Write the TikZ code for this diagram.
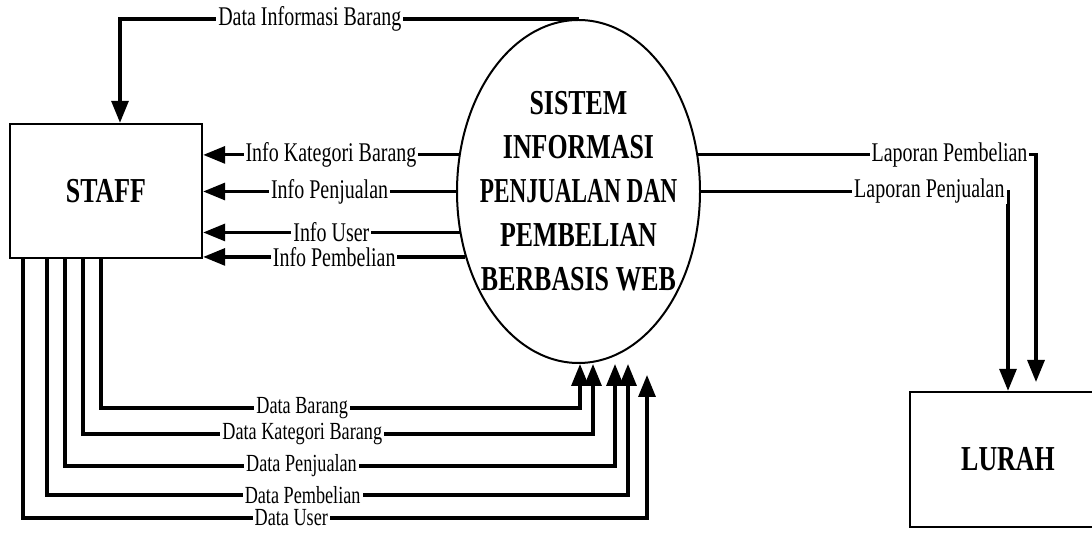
\documentclass[tikz,border=0pt]{standalone}
\usepackage{fontspec}
\setmainfont{Liberation Serif}[FakeStretch=0.74]
\usetikzlibrary{arrows.meta}
\usetikzlibrary{shapes.geometric}

\tikzset{
  entity/.style={draw=black, line width=1.2pt, fill=white, minimum width=96pt, minimum height=67pt, inner sep=0pt, font=\fontsize{17.5}{22}\selectfont\bfseries},
  proc/.style={ellipse, draw=black, line width=1pt, fill=white, minimum width=121.5pt, minimum height=171.5pt, inner sep=0pt},
  proctext/.style={align=center, inner sep=0pt, font=\fontsize{17.5}{22}\selectfont\bfseries},
  flow/.style={black, line width=1.6pt, -{Triangle[length=11pt,width=8.5pt]}},
  lbl/.style={fill=white, inner xsep=1pt, inner ysep=0pt, font=\fontsize{13.5}{14}\selectfont},
  lblsm/.style={lbl, font=\fontsize{12.3}{13}\selectfont}
}

\begin{document}
\begin{tikzpicture}[x=0.5pt, y=-0.5pt]
        \useasboundingbox (0,0) rectangle (1092,533);
        \clip (0,0) rectangle (1092,533);

        \node[entity] (staff) at (106,191) {STAFF};
        \node[proc] (sis) at (578.5,191.5) {};
        \node[proctext] (sistext) at (sis.center) {SISTEM\\INFORMASI\\\scalebox{0.9}[1]{PENJUALAN DAN}\\PEMBELIAN\\BERBASIS WEB};
        \node[entity, minimum width=98pt, minimum height=67.5pt] (lurah) at (1008,459.5) {LURAH};
        \coordinate (lpb) at (1036,382);
        \coordinate (du) at (647,375);

        \draw[flow] (sis.north) -| node[lbl, pos=0.293] {Data Informasi Barang} (120,0 |- staff.north);

        \draw[flow] (sis.163) -- node[lbl] {Info Kategori Barang} (sis.163 -| staff.east);
        \draw[flow] (sis.180) -- node[lbl] {Info Penjualan} (sis.180 -| staff.east);
        \draw[flow] (sis.199) -- node[lbl] {Info User} (sis.199 -| staff.east);
        \draw[flow] (sis.210) -- node[lbl] {Info Pembelian} (sis.210 -| staff.east);

        \draw[flow] (101,0 |- staff.south) |- node[lblsm, pos=0.71] {Data Barang} (580,408) -- (580,0 |- sis.south);
        \draw[flow] (83,0 |- staff.south) |- node[lblsm, pos=0.715] {Data Kategori Barang} (593,434) -- (593,0 |- sis.south);
        \draw[flow] (65,0 |- staff.south) |- node[lblsm, pos=0.715] {Data Penjualan} (615,466) -- (615,0 |- sis.south);
        \draw[flow] (47,0 |- staff.south) |- node[lblsm, pos=0.72] {Data Pembelian} (628,495) -- (628,0 |- sis.south);
        \draw[flow] (23,0 |- staff.south) |- node[lblsm, pos=0.715] {Data User} (647,518) -- (du);

        \draw[flow] (sis.17) -| node[lbl, pos=0.372] {Laporan Pembelian} (lpb);
        \draw[flow] (sis.east) -| node[lbl, pos=0.372] {Laporan Penjualan} (lurah.north);

\end{tikzpicture}
\end{document}
